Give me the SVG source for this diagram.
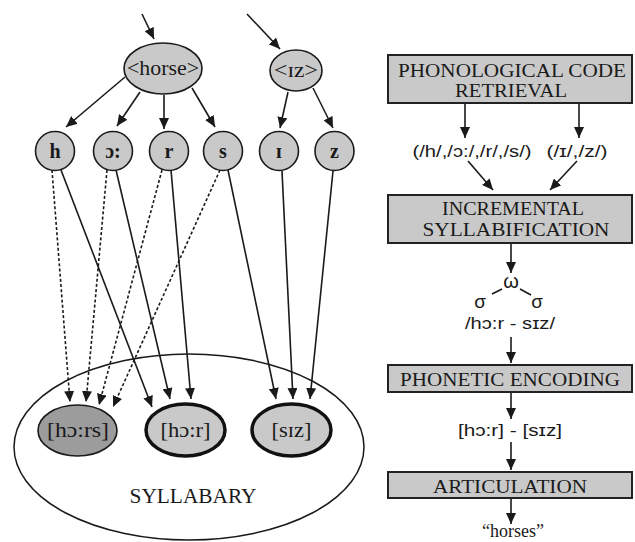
<svg xmlns="http://www.w3.org/2000/svg" width="635" height="542" viewBox="0 0 635 542">
<style>
.node{fill:#c9c9c9;stroke:#1a1a1a;stroke-width:1.6}
.dark{fill:#9c9c9c;stroke:#1a1a1a;stroke-width:1.6}
.thick{fill:#c9c9c9;stroke:#111;stroke-width:3.5}
.box{fill:#c9c9c9;stroke:#222;stroke-width:2}
.ser{font-family:"Liberation Serif","DejaVu Serif",serif;fill:#1a1a1a}
.sans{font-family:"Liberation Sans","DejaVu Sans",sans-serif;fill:#1a1a1a}
.mid{text-anchor:middle}
.ln{stroke:#1a1a1a;stroke-width:1.6;fill:none}
.arr{marker-end:url(#ah)}
.dash{stroke-dasharray:3,2.2}
</style>
<defs>
<marker id="ah" markerUnits="userSpaceOnUse" markerWidth="12" markerHeight="10" refX="11" refY="5" orient="auto">
<path d="M0,0 L11,5 L0,10 z" fill="#1a1a1a"/>
</marker>
</defs>
<rect width="635" height="542" fill="#fff"/>

<g id="syllabary">
<ellipse cx="189" cy="447" rx="175" ry="93" fill="none" stroke="#1a1a1a" stroke-width="1.5"/>
<text class="ser mid" x="193" y="503" font-size="20" textLength="127" lengthAdjust="spacingAndGlyphs">SYLLABARY</text>
</g>

<g id="connectors">
<line class="ln arr" x1="142" y1="14" x2="154" y2="39"/>
<line class="ln arr" x1="247" y1="14" x2="280" y2="49"/>
<line class="ln arr" x1="125" y1="77" x2="66" y2="127"/>
<line class="ln arr" x1="140" y1="92" x2="117" y2="126"/>
<line class="ln arr" x1="164" y1="95" x2="164" y2="129"/>
<line class="ln arr" x1="192" y1="88" x2="215" y2="127"/>
<line class="ln arr" x1="288" y1="92" x2="280" y2="128"/>
<line class="ln arr" x1="313" y1="88" x2="333" y2="128"/>
<line class="ln arr dash" x1="52" y1="170" x2="70" y2="402"/>
<line class="ln arr dash" x1="107" y1="170" x2="86" y2="402"/>
<line class="ln arr dash" x1="162" y1="170" x2="99" y2="405"/>
<line class="ln arr dash" x1="220" y1="170" x2="113" y2="407"/>
<line class="ln arr" x1="61" y1="170" x2="152" y2="407"/>
<line class="ln arr" x1="116" y1="170" x2="170" y2="399"/>
<line class="ln arr" x1="171" y1="170" x2="191" y2="399"/>
<line class="ln arr" x1="228" y1="170" x2="276" y2="399"/>
<line class="ln arr" x1="282" y1="171" x2="293" y2="399"/>
<line class="ln arr" x1="333" y1="171" x2="310" y2="399"/>
<line class="ln arr" x1="465" y1="103" x2="465" y2="138"/>
<line class="ln arr" x1="579" y1="103" x2="579" y2="138"/>
<line class="ln arr" x1="468" y1="161" x2="493" y2="190"/>
<line class="ln arr" x1="577" y1="161" x2="550" y2="190"/>
<line class="ln arr" x1="511" y1="243" x2="511" y2="273"/>
<line class="ln" x1="492" y1="294" x2="502" y2="289"/>
<line class="ln" x1="520" y1="289" x2="531" y2="295"/>
<line class="ln arr" x1="511" y1="337" x2="511" y2="363"/>
<line class="ln arr" x1="511" y1="393" x2="511" y2="419"/>
<line class="ln arr" x1="511" y1="442" x2="511" y2="470"/>
<line class="ln arr" x1="511" y1="499" x2="511" y2="524"/>
</g>

<g id="horse">
<ellipse class="node" cx="163" cy="68.5" rx="39" ry="25.5"/>
<text class="ser mid" x="163" y="75" font-size="21" textLength="72" lengthAdjust="spacingAndGlyphs">&lt;horse&gt;</text>
</g>
<g id="iz">
<ellipse class="node" cx="296" cy="70.5" rx="26" ry="20.5"/>
<text class="ser mid" x="296" y="77" font-size="21" textLength="44" lengthAdjust="spacingAndGlyphs">&lt;ɪz&gt;</text>
</g>

<g id="ph-h"><circle class="node" cx="55" cy="151" r="19.5"/><text class="ser mid" x="55" y="158" font-size="20" font-weight="bold">h</text></g>
<g id="ph-o"><circle class="node" cx="113" cy="151" r="19.5"/><text class="ser mid" x="113" y="158" font-size="20" font-weight="bold">ɔ:</text></g>
<g id="ph-r"><circle class="node" cx="169" cy="151" r="19.5"/><text class="ser mid" x="169" y="158" font-size="20" font-weight="bold">r</text></g>
<g id="ph-s"><circle class="node" cx="223" cy="151" r="19.5"/><text class="ser mid" x="223" y="158" font-size="20" font-weight="bold">s</text></g>
<g id="ph-i"><circle class="node" cx="279" cy="151" r="19.5"/><text class="ser mid" x="279" y="158" font-size="20" font-weight="bold">ɪ</text></g>
<g id="ph-z"><circle class="node" cx="334.5" cy="151" r="19.5"/><text class="ser mid" x="334.5" y="158" font-size="20" font-weight="bold">z</text></g>

<g id="syl-hors">
<ellipse class="dark" cx="77.5" cy="430.5" rx="39.5" ry="25.5"/>
<text class="ser mid" x="78" y="437" font-size="21" textLength="62" lengthAdjust="spacingAndGlyphs">[hɔ:rs]</text>
</g>
<g id="syl-hor">
<ellipse class="thick" cx="185.5" cy="430" rx="39.5" ry="26"/>
<text class="ser mid" x="185.5" y="437" font-size="21" textLength="50" lengthAdjust="spacingAndGlyphs">[hɔ:r]</text>
</g>
<g id="syl-siz">
<ellipse class="thick" cx="291.5" cy="430" rx="39.5" ry="26"/>
<text class="ser mid" x="291.5" y="437" font-size="21" textLength="40" lengthAdjust="spacingAndGlyphs">[sɪz]</text>
</g>

<g id="box-retrieval">
<rect class="box" x="388" y="55" width="244" height="48"/>
<text class="ser mid" x="512" y="77" font-size="19" textLength="228" lengthAdjust="spacingAndGlyphs">PHONOLOGICAL CODE</text>
<text class="ser mid" x="511" y="97" font-size="19" textLength="112" lengthAdjust="spacingAndGlyphs">RETRIEVAL</text>
</g>
<g id="codes">
<text class="sans mid" x="472" y="157" font-size="17" textLength="119" lengthAdjust="spacingAndGlyphs">(/h/,/ɔ:/,/r/,/s/)</text>
<text class="sans mid" x="577" y="157" font-size="17" textLength="61" lengthAdjust="spacingAndGlyphs">(/ɪ/,/z/)</text>
</g>
<g id="box-syllabification">
<rect class="box" x="388" y="195" width="244" height="48"/>
<text class="ser mid" x="513" y="215" font-size="19" textLength="142" lengthAdjust="spacingAndGlyphs">INCREMENTAL</text>
<text class="ser mid" x="516" y="236" font-size="19" textLength="187" lengthAdjust="spacingAndGlyphs">SYLLABIFICATION</text>
</g>
<g id="syllables">
<text class="sans mid" x="511" y="288" font-size="20">ω</text>
<text class="sans mid" x="480" y="308" font-size="19">σ</text>
<text class="sans mid" x="537" y="308" font-size="19">σ</text>
<text class="sans mid" x="510" y="329" font-size="17" textLength="90" lengthAdjust="spacingAndGlyphs">/hɔ:r - sɪz/</text>
</g>
<g id="box-phonetic">
<rect class="box" x="388" y="365" width="244" height="27"/>
<text class="ser mid" x="510" y="386" font-size="19" textLength="220" lengthAdjust="spacingAndGlyphs">PHONETIC ENCODING</text>
</g>
<g id="phonetic">
<text class="sans mid" x="510" y="436" font-size="17" textLength="104" lengthAdjust="spacingAndGlyphs">[hɔ:r] - [sɪz]</text>
</g>
<g id="box-articulation">
<rect class="box" x="388" y="472" width="244" height="26"/>
<text class="ser mid" x="510" y="493" font-size="19" textLength="154" lengthAdjust="spacingAndGlyphs">ARTICULATION</text>
</g>
<g id="output">
<text class="ser mid" x="513" y="537" font-size="18">“horses”</text>
</g>
</svg>
